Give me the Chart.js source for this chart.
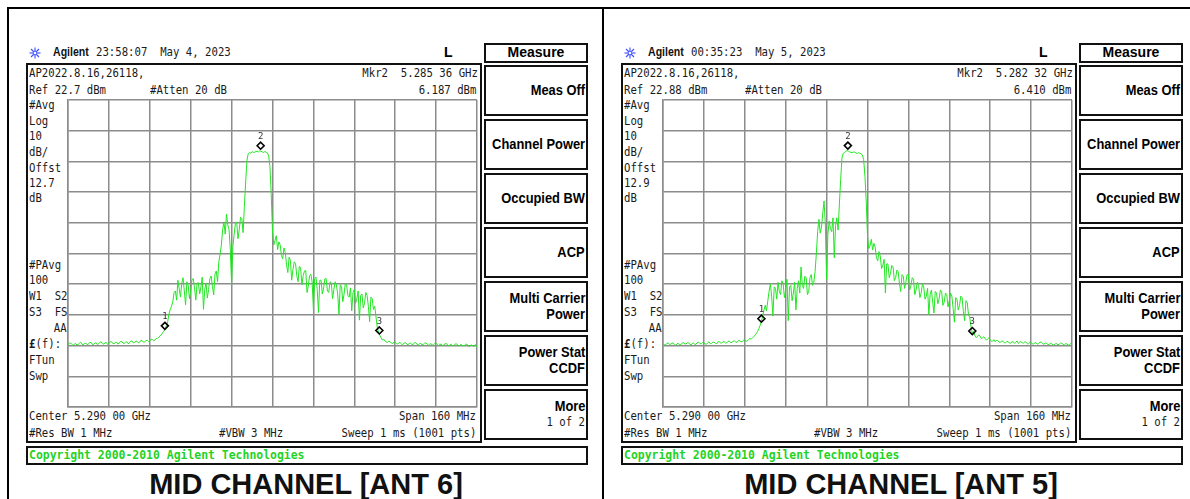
<!DOCTYPE html>
<html><head><meta charset="utf-8">
<script src="https://cdn.jsdelivr.net/npm/chart.js@4.4.0/dist/chart.umd.min.js"></script>
<style>
html,body{margin:0;padding:0;background:#fff;}
body{width:1190px;height:499px;overflow:hidden;position:relative;}
.panel{position:absolute;top:0;width:600px;height:499px;}
.t{position:absolute;white-space:pre;line-height:16px;height:16px;}
.scr{font-family:'DejaVu Sans Mono',monospace;font-size:13px;color:#1a1a1a;transform:scaleX(0.82);transform-origin:left center;}
.scr.r{transform-origin:right center;}
.sk{font-family:'Liberation Sans',Arial,sans-serif;font-weight:bold;font-size:14px;color:#000;transform:scaleX(0.92);transform-origin:right center;}
.skc{font-family:'Liberation Sans',Arial,sans-serif;font-weight:bold;font-size:14px;color:#000;}
.box{position:absolute;border:2px solid #111;box-sizing:border-box;}
.line{position:absolute;background:#000;}
.copy{font-family:'DejaVu Sans Mono',monospace;font-weight:bold;font-size:13px;color:#1fd31f;transform:scaleX(0.88);transform-origin:left center;}
.title{font-family:'Liberation Sans',Arial,sans-serif;font-weight:bold;font-size:29px;color:#111;line-height:32px;height:32px;transform:translateX(-50%);}
.hdr{font-family:'Liberation Sans',Arial,sans-serif;font-weight:bold;font-size:12px;color:#111;transform:scaleX(0.88);transform-origin:left center;}
canvas{position:absolute;}
</style>
</head><body>
<script>
// ---- data (sweep 5210..5370 MHz, 0.5 MHz per point) ----
const sweepStartMHz = 5210;
const sweepStepMHz = 0.5;
const spanDivisionsMHz = 16;
const refLevelAnt6 = 22.7;
const refLevelAnt5 = 22.88;
const dbPerDiv = 10;

const ant6Level = [
-57.0,-56.6,-56.4,-56.9,-57.3,-56.8,-56.6,-57.1,-56.9,-56.5,
-56.2,-56.8,-57.1,-56.6,-56.5,-57.0,-56.8,-56.3,-56.3,-56.9,
-56.9,-56.5,-56.4,-57.0,-56.7,-56.2,-56.1,-56.7,-56.8,-56.4,
-56.3,-56.9,-56.6,-56.1,-56.0,-56.6,-56.7,-56.3,-56.2,-56.8,
-56.5,-56.0,-55.9,-56.5,-56.6,-56.2,-56.1,-56.7,-56.4,-55.9,
-55.8,-56.4,-56.3,-55.8,-55.9,-56.4,-56.2,-55.6,-55.7,-56.2,
-56.1,-55.7,-55.6,-56.0,-55.8,-55.2,-55.3,-55.7,-55.5,-55.0,
-54.9,-54.6,-54.2,-53.8,-53.1,-52.6,-51.8,-50.8,-49.5,-47.0,
-45.5,-44.5,-43.0,-40.0,-39.5,-42.5,-36.0,-38.8,-41.5,-37.0,
-35.2,-39.5,-44.0,-36.5,-37.5,-42.0,-39.8,-35.8,-35.5,-38.5,
-42.5,-37.0,-36.8,-40.5,-38.2,-35.0,-45.5,-39.0,-36.9,-41.8,
-39.0,-35.5,-34.6,-38.0,-40.8,-34.0,-33.0,-36.5,-30.0,-27.5,
-24.5,-19.5,-17.0,-21.0,-14.5,-18.0,-19.5,-26.0,-37.5,-25.0,
-21.0,-17.5,-17.0,-22.5,-19.5,-15.5,-16.0,-20.5,-12.0,-4.0,
3.0,5.2,5.6,5.4,5.9,5.6,5.7,5.9,6.0,5.8,
6.19,6.0,5.8,5.6,5.9,5.7,5.5,4.5,1.0,-8.0,
-20.0,-24.5,-23.0,-21.5,-26.0,-23.5,-24.5,-28.0,-29.0,-25.5,
-27.0,-31.0,-33.5,-28.5,-29.5,-36.0,-32.5,-30.0,-30.5,-34.5,
-36.5,-31.5,-32.0,-37.5,-34.5,-33.0,-32.8,-40.0,-38.0,-34.5,
-34.0,-36.5,-45.5,-35.5,-35.0,-39.0,-46.5,-36.0,-36.0,-40.5,
-38.5,-35.5,-35.5,-39.5,-40.0,-36.5,-36.8,-42.0,-39.0,-36.5,
-37.5,-40.5,-47.0,-37.5,-38.0,-43.0,-40.5,-37.0,-37.5,-41.0,
-41.5,-38.5,-46.0,-40.0,-39.0,-43.5,-42.0,-39.5,-49.0,-41.0,
-40.5,-45.0,-43.5,-40.0,-41.0,-44.5,-49.5,-41.5,-42.0,-45.5,
-44.5,-48.0,-51.5,-53.0,-54.0,-54.8,-55.5,-55.2,-55.8,-56.1,
-56.3,-55.9,-56.0,-56.5,-56.6,-56.1,-56.2,-56.7,-56.8,-56.3,
-56.4,-56.8,-56.9,-56.5,-56.3,-56.8,-57.0,-56.6,-56.5,-57.0,
-56.8,-56.4,-56.3,-56.9,-57.1,-56.7,-56.6,-57.1,-56.9,-56.5,
-56.4,-56.9,-57.2,-56.8,-56.7,-57.1,-57.0,-56.6,-56.5,-57.0,
-57.3,-56.9,-56.8,-57.3,-57.1,-56.7,-56.6,-57.1,-57.4,-56.9,
-56.9,-57.3,-57.2,-56.8,-56.7,-57.2,-57.5,-57.0,-57.0,-57.4,
-57.3,-56.9,-56.8,-57.3,-57.6,-57.2,-57.1,-57.5,-57.4,-57.0,
-57.8];

const ant5Level = [
-56.5,-56.8,-56.9,-56.4,-56.2,-56.7,-56.7,-56.3,-56.3,-56.8,
-57.0,-56.5,-56.4,-56.9,-56.8,-56.3,-56.1,-56.6,-56.6,-56.2,
-56.2,-56.7,-56.9,-56.4,-56.3,-56.8,-56.6,-56.1,-56.0,-56.5,
-56.5,-56.1,-56.1,-56.6,-56.7,-56.2,-55.9,-56.5,-56.4,-56.0,
-56.0,-56.4,-56.5,-55.9,-55.8,-56.3,-56.3,-55.8,-55.9,-56.3,
-56.2,-55.7,-55.7,-56.2,-56.1,-55.6,-55.6,-56.0,-56.0,-55.5,
-55.5,-55.9,-55.8,-55.4,-55.3,-55.7,-55.6,-55.1,-54.8,-55.0,
-54.6,-54.2,-53.8,-53.2,-52.5,-51.6,-50.5,-49.2,-47.5,-45.5,
-44.0,-45.8,-42.5,-39.5,-37.0,-41.0,-47.5,-38.0,-38.5,-42.0,
-36.5,-39.5,-40.5,-36.0,-37.0,-41.5,-39.0,-35.5,-49.0,-38.0,
-37.5,-42.5,-40.0,-36.5,-45.5,-38.5,-36.0,-40.0,-31.5,-37.5,
-38.5,-34.5,-35.0,-40.5,-39.5,-35.0,-34.0,-37.5,-36.5,-33.0,
-27.0,-20.0,-16.0,-20.5,-18.5,-14.0,-10.0,-17.5,-35.5,-21.0,
-16.5,-19.0,-20.0,-15.5,-28.5,-18.0,-15.5,-19.5,-11.0,-3.0,
4.0,5.5,5.8,6.1,6.41,6.2,6.0,5.8,5.7,5.9,
5.9,5.6,5.5,5.7,5.6,5.3,5.0,3.5,-2.0,-10.0,
-21.5,-25.5,-24.5,-22.5,-26.0,-23.8,-25.0,-28.5,-29.5,-26.5,
-28.0,-32.0,-31.0,-29.0,-40.0,-30.5,-30.5,-35.0,-33.5,-31.0,
-31.5,-36.0,-35.0,-32.5,-33.0,-37.0,-39.5,-34.0,-34.5,-38.5,
-36.5,-34.0,-34.0,-39.0,-37.5,-35.0,-35.5,-40.5,-39.0,-36.5,
-37.5,-41.5,-40.0,-37.0,-38.0,-42.0,-41.0,-38.5,-47.0,-40.5,
-39.0,-43.0,-46.5,-39.5,-40.0,-43.5,-42.0,-39.0,-39.5,-44.0,
-43.0,-40.0,-40.5,-44.5,-42.5,-40.0,-41.0,-45.0,-49.5,-41.5,
-42.0,-45.5,-44.0,-41.0,-41.5,-46.0,-49.0,-42.5,-43.0,-47.0,
-48.0,-51.0,-53.0,-52.5,-53.8,-54.5,-54.2,-53.6,-54.0,-54.8,
-54.6,-54.2,-54.8,-55.3,-55.0,-54.6,-55.3,-55.7,-55.6,-55.2,
-55.9,-55.4,-55.5,-56.0,-56.1,-55.6,-55.7,-56.2,-56.2,-55.8,
-55.8,-56.3,-56.3,-55.9,-55.9,-56.4,-56.0,-55.6,-56.4,-56.0,
-55.8,-56.2,-56.3,-55.9,-56.0,-56.5,-56.5,-56.1,-56.1,-56.6,
-56.6,-56.2,-56.2,-56.7,-56.4,-56.0,-56.0,-56.5,-56.7,-56.3,
-56.3,-56.8,-56.8,-56.4,-56.4,-56.9,-56.9,-56.5,-56.5,-56.9,
-56.7,-56.3,-56.3,-56.8,-56.9,-56.5,-56.6,-57.0,-56.8,-56.5,
-56.9];

const markerLabels = ["1","2","3"];
const ant6MarkerMHz = [5247.9, 5285.36, 5331.8];
const ant6MarkerDbm = [-52.5, 6.187, -54.0];
const ant5MarkerMHz = [5248.5, 5282.32, 5331.0];
const ant5MarkerDbm = [-50.0, 6.410, -54.0];

const softKeys = [["Meas Off"],["Channel Power"],["Occupied BW"],["ACP"],["Multi Carrier","Power"],["Power Stat","CCDF"],["More","1 of 2"]];

const panels = [
  {off:0, time:"23:58:07  May 4, 2023", mkr:"Mkr2  5.285 36 GHz", ref:"Ref 22.7 dBm", mkrVal:"6.187 dBm", offst:"12.7",
   title:"MID CHANNEL [ANT 6]", level:ant6Level, refLevel:refLevelAnt6, mF:ant6MarkerMHz, mL:ant6MarkerDbm},
  {off:595, time:"00:35:23  May 5, 2023", mkr:"Mkr2  5.282 32 GHz", ref:"Ref 22.88 dBm", mkrVal:"6.410 dBm", offst:"12.9",
   title:"MID CHANNEL [ANT 5]", level:ant5Level, refLevel:refLevelAnt5, mF:ant5MarkerMHz, mL:ant5MarkerDbm}
];

function el(parent, tag, cls, css, html){const e=document.createElement(tag); if(cls)e.className=cls; Object.assign(e.style,css||{}); if(html!==undefined)e.innerHTML=html; parent.appendChild(e); return e;}
el(document.body,'div','line',{left:'7px',top:'7px',width:'2px',height:'492px'});
el(document.body,'div','line',{left:'7px',top:'7px',width:'1183px',height:'2px'});
el(document.body,'div','line',{left:'602px',top:'7px',width:'2px',height:'492px'});

const markerPlugin = {
  id:'mkr',
  afterDatasetsDraw(chart){
    const o = chart.options.plugins.mkr; if(!o) return;
    const {ctx} = chart; const xs = chart.scales.x, ys = chart.scales.y;
    ctx.save();
    o.freqs.forEach((f,i)=>{
      const px = xs.getPixelForValue(f), py = ys.getPixelForValue(o.levels[i]);
      const cy = py - 5, h = 3.5;
      ctx.beginPath(); ctx.moveTo(px,cy-h); ctx.lineTo(px+h,cy); ctx.lineTo(px,cy+h); ctx.lineTo(px-h,cy); ctx.closePath();
      ctx.strokeStyle='#000'; ctx.lineWidth=1.6; ctx.stroke();
      ctx.font='9px "DejaVu Sans Mono"'; ctx.fillStyle='#333'; ctx.textAlign='center'; ctx.textBaseline='bottom';
      ctx.fillText(o.labels[i], px, cy-h-1);
    });
    ctx.restore();
  }
};

panels.forEach(p=>{
  const P = el(document.body,'div','panel',{left:p.off+'px'});
  el(P,'div','t',{left:'29px',top:'46px',width:'12px',height:'12px'},
    '<svg width="12" height="12" viewBox="0 0 12 12"><g stroke="#3a4cff" stroke-width="1.1"><line x1="6" y1="0.5" x2="6" y2="11.5"/><line x1="0.5" y1="6" x2="11.5" y2="6"/><line x1="2" y1="2" x2="10" y2="10"/><line x1="10" y1="2" x2="2" y2="10"/></g><circle cx="6" cy="6" r="1.8" fill="#fff" stroke="#3a4cff" stroke-width="0.8"/></svg>');
  el(P,'div','t hdr',{left:'53px',top:'44px'},'Agilent');
  el(P,'div','t scr',{left:'96px',top:'44px'},p.time);
  el(P,'div','t skc',{left:'444px',top:'44px'},'L');
  el(P,'div','box',{left:'484px',top:'43px',width:'104px',height:'20px'});
  el(P,'div','t skc',{left:'484px',top:'44px',width:'104px',textAlign:'center'},'Measure');
  softKeys.forEach((k,i)=>{
    const top = 65 + i*54;
    el(P,'div','box',{left:'484px',top:top+'px',width:'104px',height:'51px'});
    if(k.length===1){
      el(P,'div','t sk',{right:(600-585)+'px',top:(top+17)+'px',textAlign:'right'},k[0]);
    } else {
      el(P,'div','t sk',{right:(600-585)+'px',top:(top+9)+'px',textAlign:'right'},k[0]);
      const second = el(P,'div','t sk',{right:(600-585)+'px',top:(top+25)+'px',textAlign:'right'},k[1]);
      if(k[1]==='1 of 2'){second.className='t scr r';second.style.right=(600-585)+'px';}
    }
  });
  el(P,'div','box',{left:'26px',top:'63px',width:'456px',height:'380px'});
  const L = (x,y,s)=>el(P,'div','t scr',{left:x+'px',top:(y-8)+'px'},s);
  const R = (x,y,s)=>el(P,'div','t scr r',{right:(600-x)+'px',top:(y-8)+'px'},s);
  L(29,73,'AP2022.8.16,26118,'); R(478,73,p.mkr);
  L(29,90,p.ref); L(150,90,'#Atten 20 dB'); R(476,90,p.mkrVal);
  [['#Avg',105],['Log',121],['10',136],['dB/',152],['Offst',168],[p.offst,183],['dB',198],
   ['#PAvg',265],['100',280],['W1  S2',296],['S3  FS',312],['<b>£</b>(f):',344],['FTun',360],['Swp',376]].forEach(a=>L(29,a[1],a[0]));
  R(67,328,'AA');
  L(29,416,'Center 5.290 00 GHz'); R(476,416,'Span 160 MHz');
  L(29,433,'#Res BW 1 MHz'); L(219,433,'#VBW 3 MHz'); R(476,433,'Sweep 1 ms (1001 pts)');
  el(P,'div','box',{left:'26px',top:'446px',width:'562px',height:'19px'});
  el(P,'div','t copy',{left:'29px',top:'447px'},'Copyright 2000-2010 Agilent Technologies');
  el(P,'div','t title',{left:'306px',top:'468px'},p.title);

  const cv = el(P,'canvas','',{left:'63px',top:'95px'});
  cv.width = 419; cv.height = 317;
  const pts = p.level.map((v,i)=>({x: sweepStartMHz + i*sweepStepMHz, y: v}));
  new Chart(cv.getContext('2d'),{
    type:'line',
    data:{datasets:[{data:pts, borderColor:'#22e622', borderWidth:1, pointRadius:0, tension:0, fill:false}]},
    options:{
      responsive:false, animation:false, events:[], devicePixelRatio:1,
      layout:{padding:5},
      plugins:{legend:{display:false}, tooltip:{enabled:false},
        mkr:{freqs:p.mF, levels:p.mL, labels:markerLabels}},
      scales:{
        x:{type:'linear', min:sweepStartMHz, max:sweepStartMHz+10*spanDivisionsMHz,
           ticks:{display:false, stepSize:spanDivisionsMHz},
           grid:{color:'#8c8c8c', lineWidth:1.5, drawTicks:false},
           border:{display:true,color:'#8c8c8c',width:1.5}},
        y:{type:'linear', min:p.refLevel-10*dbPerDiv, max:p.refLevel,
           ticks:{display:false, stepSize:dbPerDiv},
           grid:{color:'#8c8c8c', lineWidth:1.5, drawTicks:false},
           border:{display:true,color:'#8c8c8c',width:1.5}}
      }
    },
    plugins:[markerPlugin]
  });
});
</script>
</body></html>
